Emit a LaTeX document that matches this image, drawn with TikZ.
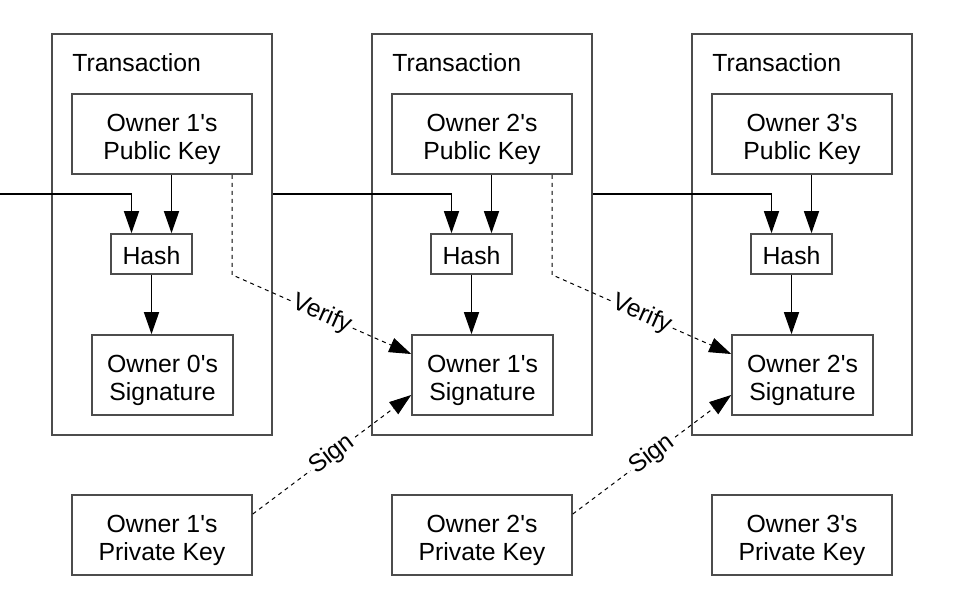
\documentclass[tikz,border=0pt]{standalone}
\usepackage{fontspec}
\setsansfont{Liberation Sans}
\usetikzlibrary{arrows.meta,positioning}

\begin{document}
\begin{tikzpicture}[x=0.5pt,y=-0.5pt,font=\sffamily\fontsize{12.4}{14}\selectfont,>={Triangle[length=11pt,width=7.5pt]},
 box/.style={draw=black!70,line width=0.8pt,align=center,inner sep=0pt},
 txbox/.style={box,minimum width=110pt,minimum height=200.5pt},
 keybox/.style={box,minimum width=90pt,minimum height=40pt,execute at begin node={\rule{0pt}{28pt}}},
 hashbox/.style={box,minimum width=40.5pt,minimum height=20pt,execute at begin node={\rule{0pt}{11pt}}},
 sigbox/.style={keybox,minimum width=70.5pt},
 flow/.style={->,line width=0.7pt,black},
 sigflow/.style={->,line width=0.5pt,black,dash pattern=on 2pt off 2pt},
 tag/.style={sloped,fill=white,inner sep=1pt}]
\useasboundingbox (0,0) rectangle (959,596);
\foreach \i in {1,2,3} {
  \pgfmathsetmacro\ox{52+320*(\i-1)}
  \node[txbox] (tx\i) at (\ox+110,234.5) {};
  \node[anchor=base west,inner sep=0pt] (title\i) at (\ox+20,71) {Transaction};
  \node[keybox] (pub\i) at (\ox+110,134) {Owner \i\textquotesingle s\\Public Key};
  \node[hashbox] (hash\i) at (\ox+99.5,254) {Hash};
  \node[keybox] (priv\i) at (\ox+110,535) {Owner \i\textquotesingle s\\Private Key};
}
\node[sigbox] (sig1) at (162.5,375) {Owner 0\textquotesingle s\\Signature};
\node[sigbox] (sig2) at (482.5,375) {Owner 1\textquotesingle s\\Signature};
\node[sigbox] (sig3) at (802.5,375) {Owner 2\textquotesingle s\\Signature};
\coordinate (in0) at (0,194);
\draw[flow] (in0) -| ([xshift=-10pt]hash1.north);
\foreach \a/\b in {1/2,2/3}
  \draw[flow] (tx\a.east |- in0) -| ([xshift=-10pt]hash\b.north);
\foreach \i in {1,2,3} {
  \draw[flow] ([xshift=10pt]hash\i.north |- pub\i.south) -- ([xshift=10pt]hash\i.north);
  \draw[flow] (hash\i.south) -- (hash\i.south |- sig\i.north);
}
\foreach \a/\b in {1/2,2/3} {
  \draw[sigflow] ([xshift=35pt]pub\a.south) -- ([xshift=35pt]pub\a.south |- hash\a.south)
    -- node[tag]{Verify} ([yshift=10.5pt]sig\b.west);
  \draw[sigflow] ([yshift=10.5pt]priv\a.east) -- node[tag]{Sign} ([yshift=-10pt]sig\b.west);
}
\end{tikzpicture}
\end{document}
